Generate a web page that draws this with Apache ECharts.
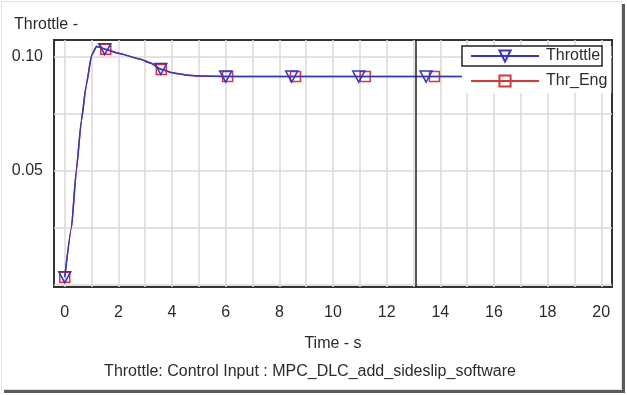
<!DOCTYPE html>
<html>
<head>
<meta charset="utf-8">
<script src="https://cdn.jsdelivr.net/npm/echarts@6/dist/echarts.min.js"></script>
<style>
html,body{margin:0;padding:0;background:#fff;}
#chart{width:627px;height:395px;}
</style>
</head>
<body>
<div id="chart"></div>
<script>
// ---- data ----
const throttleTime  = [0, 0.25, 0.43, 0.62, 0.8, 1.0, 1.18, 1.3, 1.49, 2.0, 2.8, 3.2, 3.58, 4.0, 4.5, 5.0, 6.0, 8.46, 10.96, 13.47, 14.8];
const throttleValue = [0.0035, 0.025, 0.050, 0.072, 0.0874, 0.1005, 0.1045, 0.1042, 0.1033, 0.1015, 0.0990, 0.0972, 0.0946, 0.0930, 0.0920, 0.0915, 0.0913, 0.0913, 0.0913, 0.0913, 0.0913];
const throttleMarks = [0, 1.49, 3.58, 6.0, 8.46, 10.96, 13.47];

const thrEngTime  = [0, 0.25, 0.43, 0.62, 0.8, 1.0, 1.18, 1.3, 1.53, 2.0, 2.8, 3.2, 3.6, 4.0, 4.5, 5.0, 6.07, 8.6, 11.2, 13.78, 14.8];
const thrEngValue = [0.0035, 0.025, 0.050, 0.072, 0.0874, 0.1005, 0.1045, 0.1042, 0.1032, 0.1015, 0.0990, 0.0972, 0.0944, 0.0930, 0.0920, 0.0915, 0.0913, 0.0913, 0.0913, 0.0913, 0.0913];
const thrEngMarks = [0, 1.53, 3.6, 6.07, 8.6, 11.2, 13.78];

const cursorTime = 13.07;

const xTicks  = [0,1,2,3,4,5,6,7,8,9,10,11,12,13,14,15,16,17,18,19,20];
const xLabels = [0,2,4,6,8,10,12,14,16,18,20];
const yTicks  = [0, 0.025, 0.05, 0.075, 0.10];
const yLabels = [0.05, 0.10];

const seriesNames = ['Throttle', 'Thr_Eng'];
const yTitle = 'Throttle -';
const xTitle = 'Time - s';
const subTitle = 'Throttle: Control Input : MPC_DLC_add_sideslip_software';

function buildData(times, values, marks) {
  return times.map((t, i) => {
    const item = { value: [t, values[i]] };
    if (marks.indexOf(t) < 0) item.symbol = 'none';
    return item;
  });
}

const FONT = '"Liberation Sans", Arial, sans-serif';
const TXT = '#2b2b2b';
const BLUE = '#3535c8';
const RED = '#e03434';

const chart = echarts.init(document.getElementById('chart'), null, {renderer: 'canvas'});
chart.setOption({
  animation: false,
  backgroundColor: '#fff',
  title: {
    text: yTitle, left: 9, top: 12,
    textStyle: {fontFamily: FONT, fontSize: 16, fontWeight: 'normal', color: TXT}
  },
  grid: {
    left: 54, top: 40, right: 15, bottom: 108,
    show: true, borderColor: '#333', borderWidth: 2, backgroundColor: 'transparent'
  },
  legend: {
    data: seriesNames,
    orient: 'vertical',
    left: 462, top: 46,
    padding: [0, 4, 2, 8],
    itemGap: 5,
    itemWidth: 68, itemHeight: 14,
    backgroundColor: '#fff',
    textStyle: {fontFamily: FONT, fontSize: 16, color: TXT, lineHeight: 20, padding: [0,0,0,2]}
  },
  xAxis: {
    type: 'value', min: -0.4, max: 20.4,
    name: xTitle, nameLocation: 'middle', nameGap: 49,
    nameTextStyle: {fontFamily: FONT, fontSize: 16, color: TXT},
    axisLine: {show: false},
    axisTick: {show: false, customValues: xTicks},
    axisLabel: {customValues: xLabels, fontFamily: FONT, fontSize: 16, color: TXT, margin: 18},
    splitLine: {show: true, lineStyle: {color: '#d8d8d8', width: 1.5}}
  },
  yAxis: {
    type: 'value', min: -0.0008, max: 0.1073,
    axisLine: {show: false},
    axisTick: {show: false, customValues: yTicks},
    axisLabel: {
      customValues: yLabels, fontFamily: FONT, fontSize: 16, color: TXT, margin: 11,
      formatter: v => v.toFixed(2)
    },
    splitLine: {show: true, lineStyle: {color: '#d8d8d8', width: 1.5}}
  },
  series: [
    {
      name: seriesNames[1], type: 'line',
      data: buildData(thrEngTime, thrEngValue, thrEngMarks),
      symbol: 'rect', symbolSize: 10,
      smooth: 0.15, smoothMonotone: 'x',
      itemStyle: {color: 'rgba(255,255,255,0)', borderColor: RED, borderWidth: 1.5},
      lineStyle: {color: RED, width: 1.5},
      z: 2
    },
    {
      name: seriesNames[0], type: 'line',
      data: buildData(throttleTime, throttleValue, throttleMarks),
      symbol: 'triangle', symbolRotate: 180, symbolSize: [12, 11],
      smooth: 0.15, smoothMonotone: 'x',
      itemStyle: {color: 'rgba(255,255,255,0)', borderColor: BLUE, borderWidth: 1.5},
      lineStyle: {color: BLUE, width: 1.5},
      z: 3,
      markLine: {
        silent: true, symbol: 'none', animation: false,
        label: {show: false},
        lineStyle: {color: '#222', width: 1.5, type: 'solid'},
        data: [{xAxis: cursorTime}]
      }
    }
  ],
  graphic: [
    {type: 'rect', z: 100, shape: {x: 462, y: 46, width: 140, height: 20},
     style: {fill: 'none', stroke: '#222', lineWidth: 1.5}},
    {type: 'text', z: 100, x: 310, y: 372,
     style: {text: subTitle, fontFamily: FONT, fontSize: 16, fill: TXT, align: 'center', verticalAlign: 'middle'}},
    {type: 'rect', z: 100, shape: {x: 1.5, y: 1.5, width: 620, height: 388},
     style: {fill: 'none', stroke: '#e2e2e2', lineWidth: 1}},
    {type: 'line', z: 100, shape: {x1: 623.5, y1: 4, x2: 623.5, y2: 393},
     style: {stroke: '#5a5a5a', lineWidth: 3}},
    {type: 'line', z: 100, shape: {x1: 4, y1: 391.5, x2: 625, y2: 391.5},
     style: {stroke: '#5a5a5a', lineWidth: 3}}
  ]
});
</script>
</body>
</html>
